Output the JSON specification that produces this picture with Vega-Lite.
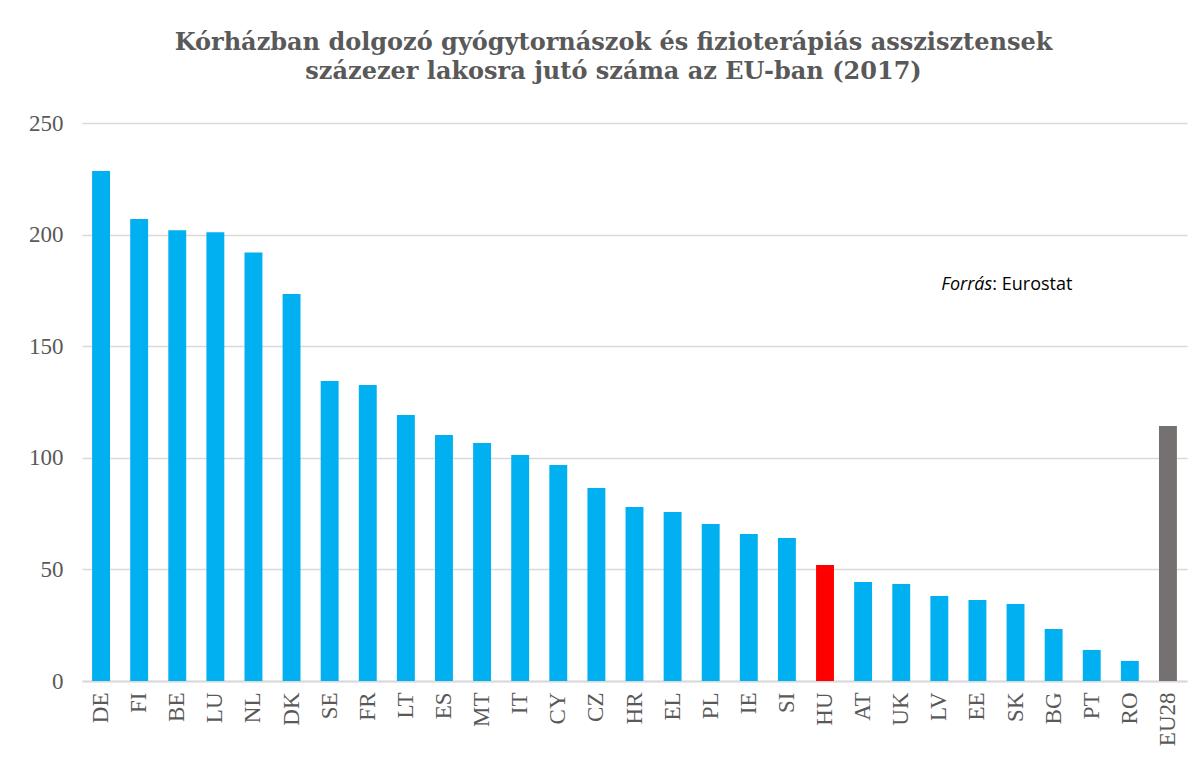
{
  "$schema": "https://vega.github.io/schema/vega-lite/v6.json",
  "width": 1105,
  "height": 558,
  "autosize": {"type": "none"},
  "padding": {"left": 82, "top": 123, "right": 16, "bottom": 79},
  "background": "white",
  "title": {
    "text": ["Kórházban dolgozó gyógytornászok és fizioterápiás asszisztensek", "százezer lakosra jutó száma az EU-ban (2017)"],
    "font": "DejaVu Serif",
    "fontSize": 24,
    "fontWeight": "bold",
    "color": "#595959",
    "anchor": "middle",
    "dx": -21,
    "offset": 28,
    "lineHeight": 29
  },
  "data": {
    "values": [
      {"country": "DE", "value": 228.5, "group": "EU"},
      {"country": "FI", "value": 207, "group": "EU"},
      {"country": "BE", "value": 202, "group": "EU"},
      {"country": "LU", "value": 201, "group": "EU"},
      {"country": "NL", "value": 192, "group": "EU"},
      {"country": "DK", "value": 173.4, "group": "EU"},
      {"country": "SE", "value": 134.4, "group": "EU"},
      {"country": "FR", "value": 132.6, "group": "EU"},
      {"country": "LT", "value": 119.2, "group": "EU"},
      {"country": "ES", "value": 110.2, "group": "EU"},
      {"country": "MT", "value": 106.6, "group": "EU"},
      {"country": "IT", "value": 101.3, "group": "EU"},
      {"country": "CY", "value": 96.8, "group": "EU"},
      {"country": "CZ", "value": 86.5, "group": "EU"},
      {"country": "HR", "value": 78, "group": "EU"},
      {"country": "EL", "value": 75.7, "group": "EU"},
      {"country": "PL", "value": 70.3, "group": "EU"},
      {"country": "IE", "value": 65.9, "group": "EU"},
      {"country": "SI", "value": 64.1, "group": "EU"},
      {"country": "HU", "value": 52, "group": "HU"},
      {"country": "AT", "value": 44.4, "group": "EU"},
      {"country": "UK", "value": 43.5, "group": "EU"},
      {"country": "LV", "value": 38.1, "group": "EU"},
      {"country": "EE", "value": 36.3, "group": "EU"},
      {"country": "SK", "value": 34.5, "group": "EU"},
      {"country": "BG", "value": 23.3, "group": "EU"},
      {"country": "PT", "value": 13.9, "group": "EU"},
      {"country": "RO", "value": 9, "group": "EU"},
      {"country": "EU28", "value": 114.2, "group": "EU28"}
    ]
  },
  "layer": [
    {
      "mark": {"type": "bar"},
      "encoding": {
        "x": {
          "field": "country",
          "type": "nominal",
          "sort": null,
          "scale": {"paddingInner": 0.53, "paddingOuter": 0.265},
          "axis": {
            "title": null,
            "labelAngle": -90,
            "labelFont": "Liberation Serif",
            "labelFontSize": 23,
            "labelColor": "#595959",
            "labelPadding": 11,
            "ticks": false,
            "domainColor": "#d9d9d9",
            "domainWidth": 2,
            "grid": false
          }
        },
        "y": {
          "field": "value",
          "type": "quantitative",
          "scale": {"domain": [0, 250], "nice": false},
          "axis": {
            "title": null,
            "values": [0, 50, 100, 150, 200, 250],
            "labelFont": "Liberation Serif",
            "labelFontSize": 23,
            "labelColor": "#595959",
            "labelPadding": 19,
            "ticks": false,
            "domain": false,
            "gridColor": "#d9d9d9",
            "gridWidth": 1.5
          }
        },
        "color": {
          "field": "group",
          "type": "nominal",
          "scale": {"domain": ["EU", "HU", "EU28"], "range": ["#00B0F0", "#FF0000", "#767171"]},
          "legend": null
        }
      }
    },
    {
      "data": {"values": [{"country": "LV", "value": 177.4, "label": "Forrás"}]},
      "mark": {"type": "text", "align": "left", "baseline": "middle", "font": "Open Sans", "fontSize": 18, "fontStyle": "italic", "color": "#000000", "dx": 2},
      "encoding": {
        "x": {"field": "country", "type": "nominal", "sort": null},
        "y": {"field": "value", "type": "quantitative"},
        "text": {"field": "label"}
      }
    },
    {
      "data": {"values": [{"country": "LV", "value": 177.4, "label": ": Eurostat"}]},
      "mark": {"type": "text", "align": "left", "baseline": "middle", "font": "Open Sans", "fontSize": 18, "color": "#000000", "dx": 53},
      "encoding": {
        "x": {"field": "country", "type": "nominal", "sort": null},
        "y": {"field": "value", "type": "quantitative"},
        "text": {"field": "label"}
      }
    }
  ],
  "config": {"view": {"stroke": null}}
}
